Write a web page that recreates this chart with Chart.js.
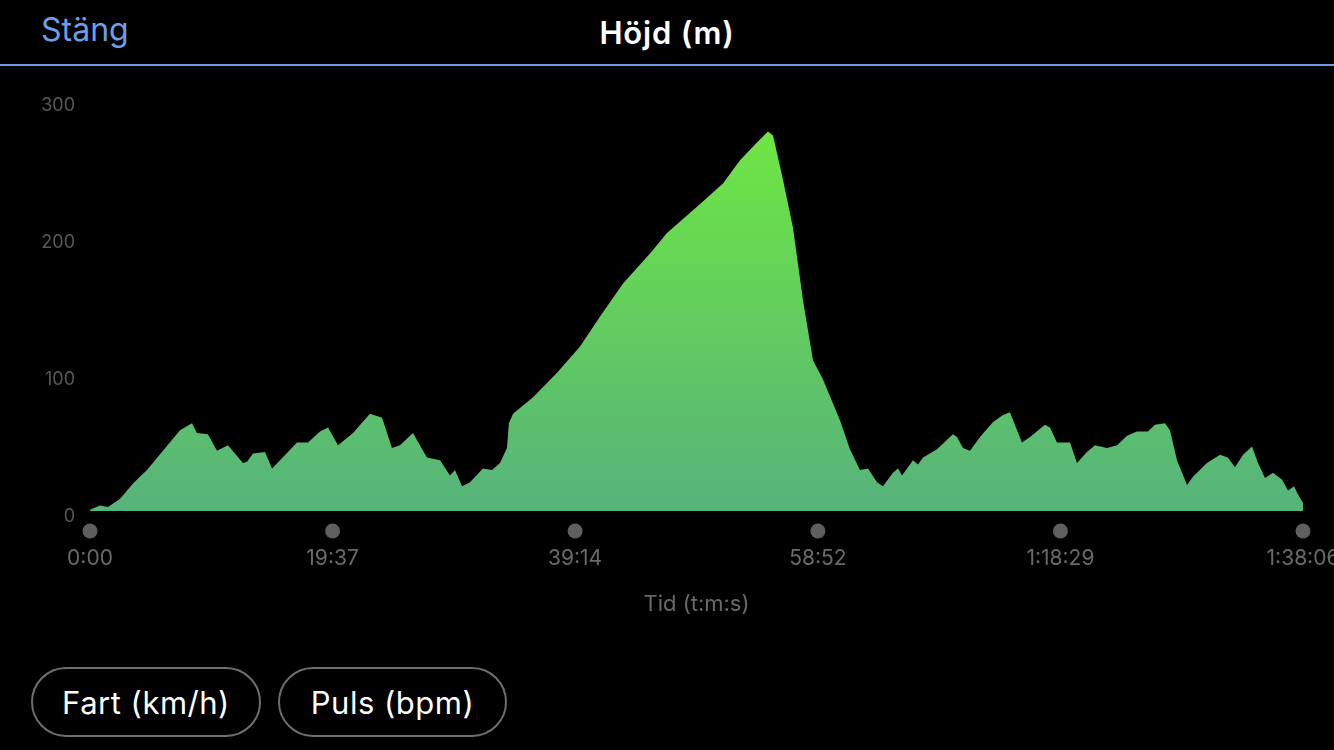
<!DOCTYPE html>
<html>
<head>
<meta charset="utf-8">
<script src="https://cdn.jsdelivr.net/npm/chart.js@4/dist/chart.umd.min.js"></script>
<style>
  html, body { margin: 0; padding: 0; background: #000; width: 1334px; height: 750px; overflow: hidden; font-family: Inter, Roboto, sans-serif; }
  #close { position: absolute; left: 41px; top: 14px; font-size: 32px; line-height: 32px; color: #6c9fe6; }
  #title { position: absolute; left: 0; width: 1334px; top: 17px; text-align: center; font-size: 31px; line-height: 31px; font-weight: 600; letter-spacing: 0.8px; color: #fff; }
  #rule { position: absolute; left: 0; top: 64px; width: 1334px; height: 2px; background: #6c9ad6; }
  #wrap { position: absolute; left: 0; top: 70px; width: 1334px; height: 570px; }
  .pill { position: absolute; top: 667px; height: 66px; border: 2px solid #6e6e6e; border-radius: 36px; color: #fff; font-size: 31px; letter-spacing: 0.5px; display: flex; align-items: center; justify-content: center; box-sizing: content-box; }
</style>
</head>
<body>
<div id="close">Stäng</div>
<div id="title">Höjd (m)</div>
<div id="rule"></div>
<div id="wrap"><canvas id="myChart"></canvas></div>
<div class="pill" style="left:31px; width:226px;">Fart (km/h)</div>
<div class="pill" style="left:278px; width:225px;">Puls (bpm)</div>
<script>
'use strict';
// elapsed time in minutes and altitude in metres
let timeMin = [0, 0.81, 1.46, 2.43, 3.48, 4.61, 5.90, 7.28, 8.25, 8.65, 9.54, 10.27, 11.16, 12.37, 12.70, 13.18, 14.15, 14.72, 15.37, 16.74,
    17.63, 18.60, 19.25, 20.06, 21.27, 22.64, 23.62, 24.42, 25.07, 26.12, 27.25, 28.31, 29.11, 29.52, 30.09, 30.73, 31.78, 32.51, 33.16, 33.72,
    33.88, 34.21, 35.83, 37.77, 39.63, 41.25, 43.11, 45.29, 46.66, 49.09, 51.19, 52.57, 53.94, 54.83, 55.24, 56.04, 56.85, 57.66, 58.47, 59.28,
    60.66, 61.46, 62.27, 62.92, 63.65, 64.13, 64.94, 65.35, 65.67, 66.56, 66.96, 67.37, 68.50, 69.79, 70.12, 70.60, 71.17, 71.98, 73.03, 73.84,
    74.40, 75.37, 76.02, 77.23, 77.64, 78.20, 79.26, 79.82, 80.63, 81.28, 82.25, 83.06, 83.87, 84.67, 85.56, 86.13, 86.94, 87.34, 87.91, 88.72,
    89.20, 90.33, 91.39, 92.02, 92.60, 93.25, 93.98, 94.46, 95.03, 95.67, 96.40, 96.89, 97.37, 97.70, 98.10];
let altitude = [1, 4, 3, 9, 20, 30, 44, 59, 64, 57, 56, 44, 48, 35, 36, 42, 43, 31, 37, 50,
    50, 58, 61, 48, 57, 71, 68, 46, 48, 57, 39, 37, 26, 30, 18, 21, 31, 30, 35, 46,
    64, 71, 83, 101, 120, 142, 166, 188, 203, 222, 239, 256, 269, 277, 274, 242, 207, 154, 110, 96,
    66, 45, 30, 31, 21, 18, 28, 31, 26, 37, 34, 39, 45, 56, 54, 46, 44, 54, 65, 70,
    72, 50, 54, 63, 61, 50, 50, 35, 43, 48, 46, 48, 55, 58, 58, 63, 64, 59, 37, 19,
    25, 35, 41, 39, 32, 41, 47, 35, 24, 28, 23, 15, 18, 12, 6];

let tickMin = [0, 19.617, 39.233, 58.867, 78.483, 98.1];
let tickLabels = ['0:00', '19:37', '39:14', '58:52', '1:18:29', '1:38:06'];
let yTicks = [0, 100, 200, 300];

let points = [];
for (let i = 0; i < timeMin.length; i++) {
    points.push({x: timeMin[i], y: altitude[i]});
}

// grey dots under each time tick
let tickDots = {
    id: 'tickDots',
    afterDraw(chart) {
        let ctx = chart.ctx;
        let xs = chart.scales.x;
        ctx.save();
        ctx.fillStyle = '#5f5f5f';
        xs.ticks.forEach(t => {
            ctx.beginPath();
            ctx.arc(xs.getPixelForValue(t.value), chart.chartArea.bottom + 20, 7.5, 0, Math.PI * 2);
            ctx.fill();
        });
        ctx.restore();
    }
};

function greenFill(context) {
    let area = context.chart.chartArea;
    if (!area) return '#5fc070';
    let g = context.chart.ctx.createLinearGradient(0, area.top, 0, area.bottom);
    g.addColorStop(0, '#70ea3e');
    g.addColorStop(1, '#56b37b');
    return g;
}

let ctx = document.getElementById('myChart').getContext('2d');
let myChart = new Chart(ctx, {
    type: 'line',
    data: {
        datasets: [{
            data: points,
            backgroundColor: greenFill,
            borderWidth: 0,
            pointRadius: 0,
            fill: 'origin',
            tension: 0
        }]
    },
    plugins: [tickDots],
    options: {
        responsive: true,
        maintainAspectRatio: false,
        animation: false,
        layout: { padding: { top: 30, right: 31, left: 0, bottom: 0 } },
        plugins: { legend: { display: false }, tooltip: { enabled: false } },
        scales: {
            x: {
                type: 'linear',
                min: 0,
                max: 98.1,
                grid: { display: false, drawTicks: false },
                border: { display: false },
                afterBuildTicks: s => { s.ticks = tickMin.map(v => ({value: v})); },
                afterFit: s => { s.height = 129; s.paddingLeft = 0; s.paddingRight = 0; },
                ticks: {
                    padding: 35,
                    maxRotation: 0,
                    autoSkip: false,
                    color: '#6a6a6a',
                    font: { family: 'Inter', size: 21 },
                    callback: (v, i) => tickLabels[i]
                },
                title: {
                    display: true,
                    text: 'Tid (t:m:s)',
                    color: '#6a6a6a',
                    font: { family: 'Inter', size: 22 },
                    padding: { bottom: 22 }
                }
            },
            y: {
                min: 0,
                max: 300,
                grid: { display: false, drawTicks: false },
                border: { display: false },
                afterBuildTicks: s => { s.ticks = yTicks.map(v => ({value: v})); },
                afterFit: s => { s.width = 90; s.paddingTop = 0; s.paddingBottom = 0; },
                ticks: {
                    padding: 15,
                    labelOffset: 6,
                    color: '#585858',
                    font: { family: 'Inter', size: 18 }
                }
            }
        }
    }
});
</script>
</body>
</html>
